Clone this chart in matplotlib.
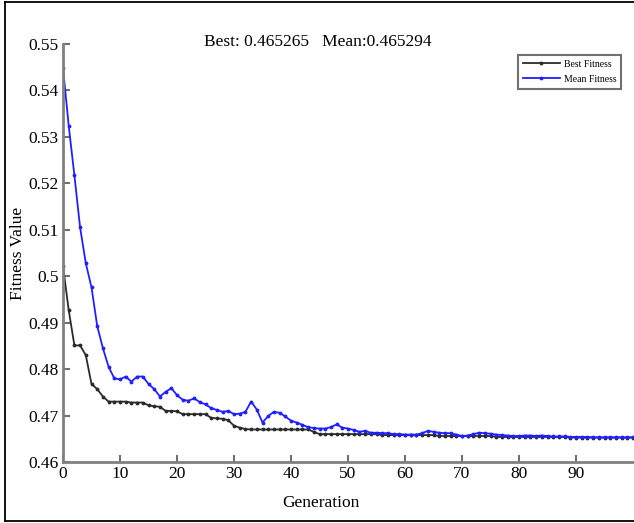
"""GA convergence plot: best and mean fitness per generation."""
import matplotlib
matplotlib.use("Agg")
import matplotlib.pyplot as plt
from matplotlib.lines import Line2D

plt.rcParams["font.family"] = ["Liberation Serif", "DejaVu Serif"]

# generations 0..100
generations = list(range(101))

best_fitness = [
    0.5022, 0.4927, 0.4851, 0.4851, 0.4830, 0.4768, 0.4757, 0.4741, 0.4730, 0.4730,
    0.4730, 0.4730, 0.4728, 0.4728, 0.4728, 0.4722, 0.4720, 0.4719, 0.4710, 0.4710,
    0.4709, 0.4703, 0.4703, 0.4703, 0.4703, 0.4703, 0.4695, 0.4694, 0.4693, 0.4690,
    0.4678, 0.4674, 0.4671, 0.4670, 0.4670, 0.4670, 0.4670, 0.4670, 0.4670, 0.4670,
    0.4670, 0.4670, 0.4670, 0.4670, 0.4665, 0.4660, 0.4660, 0.4660, 0.4660, 0.4660,
    0.4660, 0.4660, 0.4660, 0.4660, 0.4660, 0.4660, 0.4658, 0.4658, 0.4658, 0.4658,
    0.4658, 0.4658, 0.4658, 0.4658, 0.4658, 0.4658, 0.4656, 0.4656, 0.4656, 0.4656,
    0.4656, 0.4656, 0.4656, 0.4656, 0.4656, 0.4656, 0.4654, 0.4654, 0.4654, 0.4654,
    0.4654, 0.4654, 0.4654, 0.4654, 0.4654, 0.4654, 0.4654, 0.4654, 0.4654, 0.46527,
    0.46527, 0.46527, 0.46527, 0.46527, 0.46527, 0.46527, 0.46527, 0.46527, 0.46527, 0.46527,
    0.465265,
]

mean_fitness = [
    0.5449, 0.5324, 0.5217, 0.5105, 0.5028, 0.4976, 0.4893, 0.4845, 0.4805, 0.4780,
    0.4778, 0.4784, 0.4773, 0.4784, 0.4784, 0.4768, 0.4757, 0.4741, 0.4751, 0.4759,
    0.4744, 0.4734, 0.4732, 0.4737, 0.4729, 0.4724, 0.4716, 0.4712, 0.4708, 0.4710,
    0.4703, 0.4704, 0.4708, 0.4730, 0.4713, 0.4685, 0.4699, 0.4708, 0.4706, 0.4698,
    0.4689, 0.4685, 0.4680, 0.4675, 0.4673, 0.4672, 0.4672, 0.4675, 0.4681, 0.4674,
    0.4672, 0.4669, 0.4665, 0.4667, 0.4663, 0.4663, 0.4662, 0.4662, 0.4660, 0.4660,
    0.4659, 0.4659, 0.4659, 0.4662, 0.4667, 0.4665, 0.4663, 0.4662, 0.4662, 0.4659,
    0.4656, 0.4657, 0.4660, 0.4663, 0.4662, 0.4661, 0.4659, 0.4658, 0.4657, 0.4656,
    0.4656, 0.4657, 0.4657, 0.4656, 0.4657, 0.4656, 0.4655, 0.4655, 0.4655, 0.4654,
    0.4654, 0.4654, 0.4654, 0.4653, 0.4653, 0.4653, 0.4653, 0.4653, 0.4653, 0.4653,
    0.465294,
]

x_ticks = [0, 10, 20, 30, 40, 50, 60, 70, 80, 90]
y_ticks = [0.46, 0.47, 0.48, 0.49, 0.50, 0.51, 0.52, 0.53, 0.54, 0.55]
y_tick_labels = ["0.46", "0.47", "0.48", "0.49", "0.5", "0.51", "0.52", "0.53", "0.54", "0.55"]

title_text = "Best: 0.465265   Mean:0.465294"

fig = plt.figure(figsize=(6.34, 5.23), dpi=100)
ax = fig.add_axes([63 / 634, 1 - 462 / 523, 570 / 634, 418 / 523])

ax.plot(generations, best_fitness, color="#2b2b2b", lw=1.3, marker=".", ms=3.5)
ax.plot(generations, mean_fitness, color="#2020ff", lw=1.3, marker=".", ms=3.5)

ax.set_xlim(0, 100)
ax.set_ylim(0.46, 0.55)
ax.set_xticks(x_ticks)
ax.set_yticks(y_ticks)
ax.set_yticklabels(y_tick_labels)

for side in ("top", "right"):
    ax.spines[side].set_visible(False)
for side in ("left", "bottom"):
    ax.spines[side].set_color("#808080")
    ax.spines[side].set_linewidth(2)
ax.tick_params(direction="in", length=5, width=1.5, color="#707070",
               labelsize=12.5, labelcolor="black", pad=3)

fig.text(318 / 634, 1 - 42 / 523, title_text, ha="center", va="center", fontsize=12.5)
fig.text(321 / 634, 1 - 503 / 523, "Generation", ha="center", va="center", fontsize=12.5)
fig.text(18 / 634, 1 - 253 / 523, "Fitness Value", ha="center", va="center",
         rotation=90, fontsize=12.5)

handles = [
    Line2D([], [], color="#2b2b2b", lw=1.3, marker=".", ms=3.5),
    Line2D([], [], color="#2020ff", lw=1.3, marker=".", ms=3.5),
]
leg = ax.legend(handles, ["Best Fitness", "Mean Fitness"], loc="upper right",
                bbox_to_anchor=(621 / 634, 1 - 55 / 523), bbox_transform=fig.transFigure,
                fontsize=7, fancybox=False, framealpha=1, handlelength=3.8,
                borderpad=0.5, labelspacing=0.6, handletextpad=0.4, borderaxespad=0)
leg.get_frame().set_edgecolor("#707070")
leg.get_frame().set_linewidth(1.5)

# outer frame around the figure (right side is cropped in the reference)
frame_kw = dict(color="black", lw=1.3, transform=fig.transFigure)
fig.add_artist(Line2D([5 / 634, 5 / 634], [1 - 2 / 523, 1 - 521 / 523], **frame_kw))
fig.add_artist(Line2D([5 / 634, 1], [1 - 2 / 523, 1 - 2 / 523], **frame_kw))
fig.add_artist(Line2D([5 / 634, 1], [1 - 521 / 523, 1 - 521 / 523], **frame_kw))

fig.savefig("out.png", dpi=100)
